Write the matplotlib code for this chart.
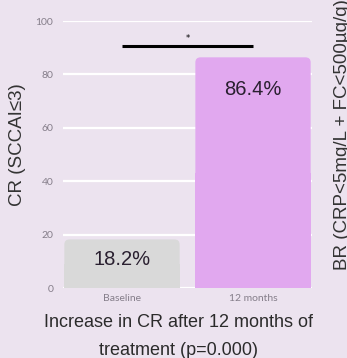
import numpy as np
import matplotlib.pyplot as plt
from matplotlib.patches import FancyBboxPatch, Rectangle

# data
categories = ["Baseline", "12 months"]
values = [18.2, 86.4]
value_labels = ["18.2%", "86.4%"]
bar_colors = ["#d9d9d9", "#e1a8ef"]
yticks = [0, 20, 40, 60, 80, 100]
sig_level = 90.6

bg = "#ece3ef"

fig = plt.figure(figsize=(3.47, 3.58), dpi=100, facecolor=bg)
ax = fig.add_axes([0.1816, 0.1955, 0.7175, 0.7458], facecolor=bg)

x = np.arange(len(categories))
bars = ax.bar(x, values, width=0.88, color=bar_colors, zorder=2)

# round the top corners of the bars
for b in bars:
    bx, by, bw, bh = b.get_x(), b.get_y(), b.get_width(), b.get_height()
    b.set_visible(False)
    ax.add_patch(FancyBboxPatch((bx, by), bw, bh,
                                boxstyle="round,pad=0,rounding_size=0.04",
                                mutation_aspect=48, facecolor=b.get_facecolor(),
                                edgecolor="none", zorder=2))
    ax.add_patch(Rectangle((bx, by), bw, bh / 2, facecolor=b.get_facecolor(),
                           edgecolor="none", zorder=2))

label_y = [10.5, 74.5]
for xi, ly, lab in zip(x, label_y, value_labels):
    ax.text(xi, ly, lab, ha="center", va="center", fontsize=14.5,
            family="Liberation Sans", color="#2a2030", zorder=3)

# significance bar
ax.plot([x[0], x[1]], [sig_level, sig_level], color="black", lw=2.2,
        solid_capstyle="butt", zorder=3)
ax.text((x[0] + x[1]) / 2, sig_level + 1.2, "*", ha="center", va="bottom",
        fontsize=6, color="black")

ax.set_xlim(-0.45, 1.45)
ax.set_ylim(0, 100)
ax.set_yticks(yticks)
ax.set_xticks(x)
ax.set_xticklabels(categories)
ax.grid(axis="y", color="white", lw=1.6, zorder=1)
ax.set_axisbelow(True)
for s in ax.spines.values():
    s.set_visible(False)
ax.tick_params(axis="both", length=0, labelsize=7.5, labelcolor="#857e8a")
ax.tick_params(axis="y", pad=7)
ax.tick_params(axis="x", pad=4)
for t in ax.get_xticklabels() + ax.get_yticklabels():
    t.set_family("Lato")

ax.set_ylabel("CR (SCCAI≤3)", fontsize=13.5, family="Liberation Sans",
              color="#333333")
ax.yaxis.set_label_coords(-0.15, 0.536)

fig.text(0.513, 0.098, "Increase in CR after 12 months of", ha="center",
         va="center", fontsize=13, family="Liberation Sans", color="#2b2b2b")
fig.text(0.513, 0.022, "treatment (p=0.000)", ha="center", va="center",
         fontsize=13, family="Liberation Sans", color="#2b2b2b")

# label of the neighbouring panel, cut by the frame
fig.text(0.986, 1 - 270 / 358, "BR (CRP<5mg/L + FC<500µg/g)", rotation=90,
         ha="center", va="bottom", fontsize=13.5, family="Liberation Sans",
         color="#333333")

fig.savefig("out.png", dpi=100, facecolor=bg)
